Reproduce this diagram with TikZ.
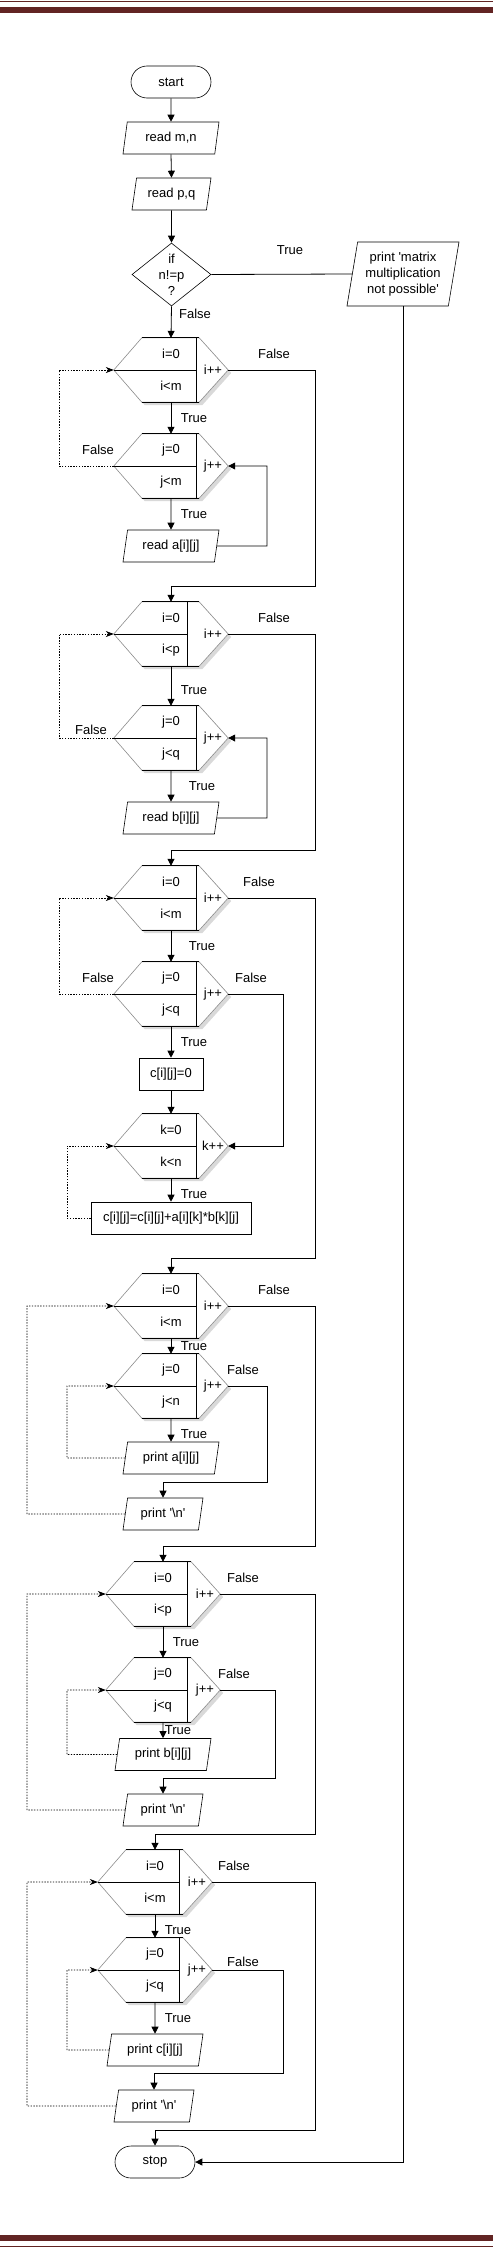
\documentclass[tikz,border=0pt]{standalone}
\usepackage{fontspec}
\setmainfont{Liberation Sans}
\usetikzlibrary{arrows.meta,shapes.geometric}

\definecolor{pageborder}{HTML}{622423}

\tikzset{
	flow/.style={line width=0.8pt, -{Triangle[length=7pt,width=7pt]}},
	back/.style={line width=0.7pt, dash pattern=on 1.4pt off 1.4pt, -{Stealth[length=8pt,width=6pt,inset=2.5pt]}},
	plain/.style={line width=0.8pt},
	terminal/.style={draw, line width=0.6pt, rounded corners=16pt, minimum width=80pt, minimum height=32pt, inner sep=0pt},
	iobox/.style={draw, line width=0.6pt, trapezium, trapezium left angle=72, trapezium right angle=108, trapezium stretches body, minimum width=96pt, minimum height=32pt, inner sep=1pt},
	procbox/.style={draw, line width=0.6pt, rectangle, minimum height=32pt, inner sep=2pt},
	decision/.style={draw, line width=0.6pt, diamond, minimum width=79pt, minimum height=63pt, inner sep=0pt},
	hexbox/.style={minimum width=114pt, minimum height=64pt, inner sep=0pt},
	lbl/.style={inner sep=0pt}
}

\newcommand{\loopblock}[7]{
	\node[hexbox] (#1) at (#2,#3) {};
	\path[fill=black!15, transform canvas={xshift=3pt,yshift=-3pt}] (#1.west) -- ([xshift=28pt]#1.north west) -- ([xshift=-29pt]#1.north east) -- (#1.east) -- ([xshift=-29pt]#1.south east) -- ([xshift=28pt]#1.south west) -- cycle;
	\draw[line width=0.6pt, draw=black!45, fill=white] (#1.west) -- ([xshift=28pt]#1.north west) -- ([xshift=-29pt]#1.north east) -- (#1.east) -- ([xshift=-29pt]#1.south east) -- ([xshift=28pt]#1.south west) -- cycle;
	\draw[line width=0.8pt] ([xshift=28pt]#1.north west) -- ([xshift=-29pt]#1.north east) ([xshift=28pt]#1.south west) -- ([xshift=-29pt]#1.south east) ([xshift=#7]#1.north) -- ([xshift=#7]#1.south) (#1.west) -- ([xshift=#7]#1.center);
	\node (#1-a) at ([yshift=16pt]#1.center) {#4};
	\node (#1-b) at ([yshift=-16pt]#1.center) {#5};
	\node (#1-c) at ([xshift=42pt]#1.center) {#6};
}

\begin{document}
\begin{tikzpicture}[x=1pt, y=-1pt, font=\fontsize{13}{15}\selectfont]
	\useasboundingbox (0,0) rectangle (493,2248);
	\fill[pageborder] (0,1) rectangle (493,2.2);
	\fill[pageborder] (0,7) rectangle (493,13);
	\fill[pageborder] (0,2235) rectangle (493,2241);
	\fill[pageborder] (0,2246) rectangle (493,2247.2);

	\node[terminal] (start) at (171,82) {start};
	\node[iobox] (readmn) at (171,138) {read m,n};
	\node[iobox, minimum width=79pt] (readpq) at (171.5,194) {read p,q};
	\node[decision, label={[align=center, font=\fontsize{13}{16}\selectfont]center:{if\\n!=p\\?}}] (check) at (171.5,274.5) {};
	\node[iobox, trapezium left angle=77, trapezium right angle=103, minimum width=112pt, minimum height=64pt, align=center, font=\fontsize{13}{16}\selectfont] (nomult) at (403,274) {print \textquotesingle matrix\\multiplication\\not possible\textquotesingle};

	\loopblock{ia}{171}{370}{i=0}{i<m}{i++}{25pt}
	\loopblock{ja}{171}{466}{j=0}{j<m}{j++}{25pt}
	\node[iobox] (reada) at (171,546) {read a[i][j]};

	\loopblock{ib}{171}{634}{i=0}{i<p}{i++}{16pt}
	\loopblock{jb}{171}{738}{j=0}{j<q}{j++}{25pt}
	\node[iobox] (readb) at (171,818) {read b[i][j]};

	\loopblock{ic}{171}{898}{i=0}{i<m}{i++}{25pt}
	\loopblock{jc}{171}{994}{j=0}{j<q}{j++}{25pt}
	\node[procbox, minimum width=64pt] (czero) at (171,1074) {c[i][j]=0};
	\loopblock{kc}{171}{1146}{k=0}{k<n}{k++}{25pt}
	\node[procbox, minimum width=160pt] (csum) at (171,1218) {c[i][j]=c[i][j]+a[i][k]*b[k][j]};

	\loopblock{id}{171}{1306}{i=0}{i<m}{i++}{25pt}
	\loopblock{jd}{171}{1386}{j=0}{j<n}{j++}{25pt}
	\node[iobox] (printa) at (171,1458) {print a[i][j]};
	\node[iobox, minimum width=80pt] (nla) at (163,1514) {print \textquotesingle\textbackslash n\textquotesingle};

	\loopblock{ie}{163}{1594}{i=0}{i<p}{i++}{24pt}
	\loopblock{je}{163}{1690}{j=0}{j<q}{j++}{24pt}
	\node[iobox] (printb) at (163,1754.5) {print b[i][j]};
	\node[iobox, minimum width=80pt] (nlb) at (163,1810) {print \textquotesingle\textbackslash n\textquotesingle};

	\loopblock{if}{155}{1882}{i=0}{i<m}{i++}{24pt}
	\loopblock{jf}{155}{1970}{j=0}{j<q}{j++}{24pt}
	\node[iobox] (printc) at (155,2050) {print c[i][j]};
	\node[iobox, minimum width=80pt] (nlc) at (154,2106) {print \textquotesingle\textbackslash n\textquotesingle};

	\node[terminal] (stop) at (155,2162) {stop};

	\node[lbl] (ltrue) at (290,250) {True};
	\node[lbl] (lfalse) at (195,314) {False};
	\node[lbl] (fa1) at (274,354) {False};
	\node[lbl] (ta1) at (194,418) {True};
	\node[lbl] (fa2) at (98,450) {False};
	\node[lbl] (ta2) at (194,514) {True};
	\node[lbl] (fb1) at (274,618) {False};
	\node[lbl] (tb1) at (194,690) {True};
	\node[lbl] (fb2) at (91,730) {False};
	\node[lbl] (tb2) at (202,786) {True};
	\node[lbl] (fc1) at (259,882) {False};
	\node[lbl] (tc1) at (202,946) {True};
	\node[lbl] (fc2) at (98,978) {False};
	\node[lbl] (fc3) at (251,978) {False};
	\node[lbl] (tc2) at (194,1042) {True};
	\node[lbl] (tc3) at (194,1194) {True};
	\node[lbl] (fd1) at (274,1290) {False};
	\node[lbl] (td1) at (194,1346) {True};
	\node[lbl] (fd2) at (243,1370) {False};
	\node[lbl] (td2) at (194,1434) {True};
	\node[lbl] (fe1) at (243,1578) {False};
	\node[lbl] (te1) at (186,1642) {True};
	\node[lbl] (fe2) at (234,1674) {False};
	\node[lbl] (te2) at (178,1730) {True};
	\node[lbl] (ff1) at (234,1866) {False};
	\node[lbl] (tf1) at (178,1930) {True};
	\node[lbl] (ff2) at (243,1962) {False};
	\node[lbl] (tf2) at (178,2018) {True};

	\draw[flow] (start.south) -- (readmn.north);
	\draw[flow] (readmn.south) -- (readpq.north);
	\draw[flow] (readpq.south) -- (check.north);
	\draw[plain] (check.east) -- (nomult.west);
	\draw[flow] (nomult.south) |- (stop.east);
	\draw[flow] (check.south) -- (ia.north);

	\draw[flow] (ia.south) -- (ja.north);
	\draw[flow] (ja.south) -- (reada.north);
	\draw[flow] (reada.east) -- (267,546) |- (ja.east);
	\draw[back] (ja.west) -- (59,466) |- (ia.west);
	\draw[flow] (ia.east) -- (315,370) -- (315,586) -| (ib.north);

	\draw[flow] (ib.south) -- (jb.north);
	\draw[flow] (jb.south) -- (readb.north);
	\draw[flow] (readb.east) -- (267,818) |- (jb.east);
	\draw[back] (jb.west) -- (59,738) |- (ib.west);
	\draw[flow] (ib.east) -- (315,634) -- (315,850) -| (ic.north);

	\draw[flow] (ic.south) -- (jc.north);
	\draw[flow] (jc.south) -- (czero.north);
	\draw[flow] (czero.south) -- (kc.north);
	\draw[flow] (kc.south) -- (csum.north);
	\draw[flow] (jc.east) -- (283,994) |- (kc.east);
	\draw[back] (csum.west) -- (67,1218) |- (kc.west);
	\draw[back] (jc.west) -- (59,994) |- (ic.west);
	\draw[flow] (ic.east) -- (315,898) -- (315,1258) -| (id.north);

	\draw[flow] (id.south) -- (jd.north);
	\draw[flow] (jd.south) -- (printa.north);
	\draw[back] (printa.west) -- (67,1458) |- (jd.west);
	\draw[flow] (jd.east) -- (267,1386) -- (267,1482) -| (nla.north);
	\draw[back] (nla.west) -- (27,1514) |- (id.west);
	\draw[flow] (id.east) -- (315,1306) -- (315,1546) -| (ie.north);

	\draw[flow] (ie.south) -- (je.north);
	\draw[flow] (je.south) -- (printb.north);
	\draw[back] (printb.west) -- (67,1754.5) |- (je.west);
	\draw[flow] (je.east) -- (275,1690) -- (275,1778) -| (nlb.north);
	\draw[back] (nlb.west) -- (27,1810) |- (ie.west);
	\draw[flow] (ie.east) -- (315,1594) -- (315,1834) -| (if.north);

	\draw[flow] (if.south) -- (jf.north);
	\draw[flow] (jf.south) -- (printc.north);
	\draw[back] (printc.west) -- (67,2050) |- (jf.west);
	\draw[flow] (jf.east) -- (283,1970) -- (283,2073) -| (nlc.north);
	\draw[back] (nlc.west) -- (27,2106) |- (if.west);
	\draw[flow] (if.east) -- (315,1882) -- (315,2130) -| (stop.north);
\end{tikzpicture}
\end{document}
